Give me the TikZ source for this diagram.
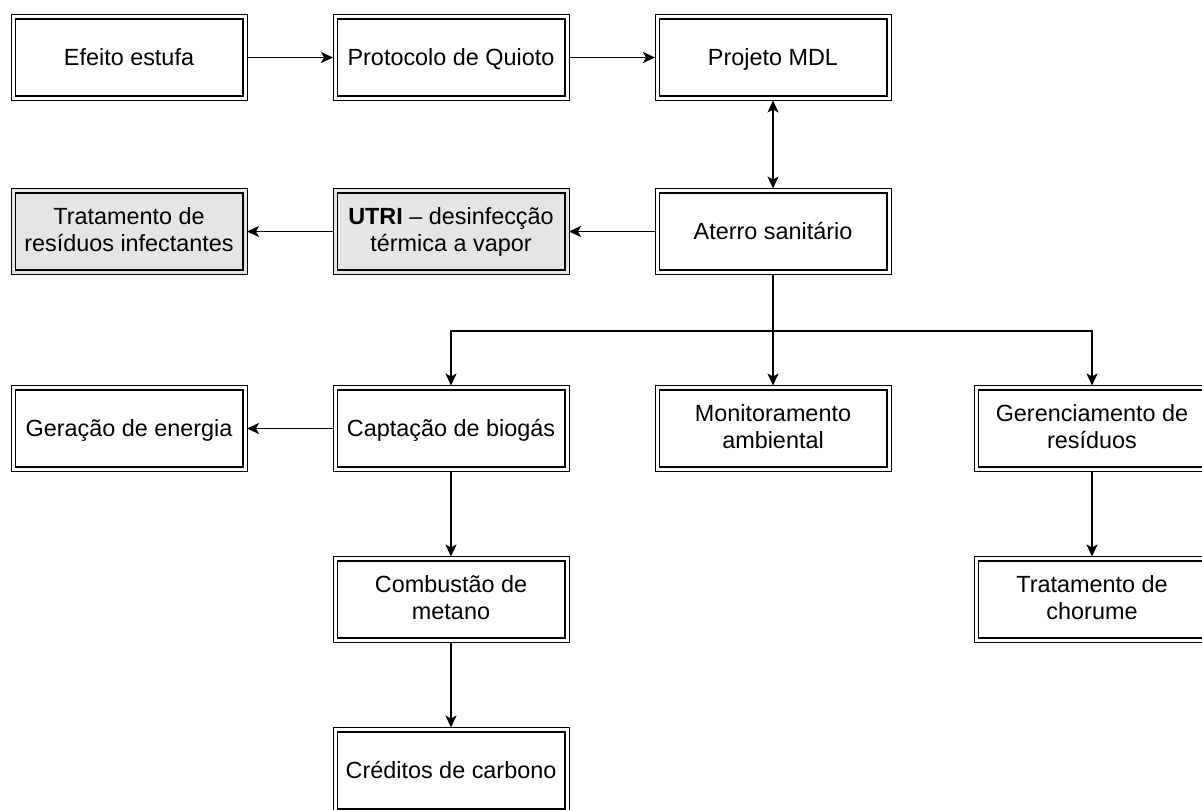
\documentclass[tikz,border=0pt]{standalone}
\usepackage{fontspec}
\setmainfont{Liberation Sans}
\usetikzlibrary{positioning, calc, arrows.meta}

\newcommand{\boxstrut}{\rule[-1.6pt]{0pt}{11.6pt}}

\begin{document}
\begin{tikzpicture}[
        % Define styles for the flow chart boxes and connectors
        box/.style={draw, line width=0.5pt, rectangle, outer sep=0pt, inner sep=2pt,
            minimum width=118pt, minimum height=43pt, align=center,
            font=\fontsize{11.7}{13.5}\selectfont,
            execute at begin node=\boxstrut, execute at end node=\boxstrut},
        greybox/.style={box, fill=black!10},
        inner frame/.style={line width=0.9pt},
        link/.style={line width=0.8pt},
        arrow/.style={link, -{Stealth[length=6pt, width=5.5pt, inset=1.5pt]}},
        twoway/.style={link, {Stealth[length=6pt, width=5.5pt, inset=1.5pt]}-{Stealth[length=6pt, width=5.5pt, inset=1.5pt]}}
    ]
    \useasboundingbox (0,0) rectangle (601pt,-404.5pt);

    % --- TOP ROW ---
    \node[box] at (64.5pt,-28.75pt) (efeito) {Efeito estufa};
    \node[box, right=43pt of efeito] (quioto) {Protocolo de Quioto};
    \node[box, right=43pt of quioto] (mdl) {Projeto MDL};

    % --- SECOND ROW ---
    \node[box, below=44pt of mdl] (aterro) {Aterro sanitário};
    \node[greybox, left=43pt of aterro] (utri) {\textbf{UTRI} -- desinfecção\\térmica a vapor};
    \node[greybox, left=43pt of utri] (infect) {Tratamento de\\resíduos infectantes};

    % --- THIRD ROW ---
    \node[box, below=55.5pt of aterro] (monit) {Monitoramento\\ambiental};
    \node[box, left=43pt of monit] (captacao) {Captação de biogás};
    \node[box, left=43pt of captacao] (geracao) {Geração de energia};
    \node[box, right=41.5pt of monit] (gerenc) {Gerenciamento de\\resíduos};

    % --- LOWER ROWS ---
    \node[box, below=42.5pt of captacao] (combust) {Combustão de\\metano};
    \node[box, below=42.5pt of combust] (creditos) {Créditos de carbono};
    \node[box, below=42.5pt of gerenc] (chorume) {Tratamento de\\chorume};

    % Inner line of the double frames
    \foreach \b in {efeito, quioto, mdl, aterro, utri, infect, monit, captacao,
                    geracao, gerenc, combust, creditos, chorume}
        \draw[inner frame] ([shift={(2.2pt,2.2pt)}]\b.south west) rectangle
                           ([shift={(-2.2pt,-2.2pt)}]\b.north east);

    % --- CONNECTIONS ---
    \draw[arrow] (efeito) -- (quioto);
    \draw[arrow] (quioto) -- (mdl);
    \draw[twoway] (mdl) -- (aterro);
    \draw[arrow] (aterro) -- (utri);
    \draw[arrow] (utri) -- (infect);

    % Branch below Aterro sanitario
    \coordinate (fork) at ($(aterro.south)!0.51!(monit.north)$);
    \draw[arrow] (aterro) -- (monit);
    \draw[arrow] (fork) -| (captacao);
    \draw[arrow] (fork) -| (gerenc);

    \draw[arrow] (captacao) -- (geracao);
    \draw[arrow] (captacao) -- (combust);
    \draw[arrow] (combust) -- (creditos);
    \draw[arrow] (gerenc) -- (chorume);

\end{tikzpicture}
\end{document}
